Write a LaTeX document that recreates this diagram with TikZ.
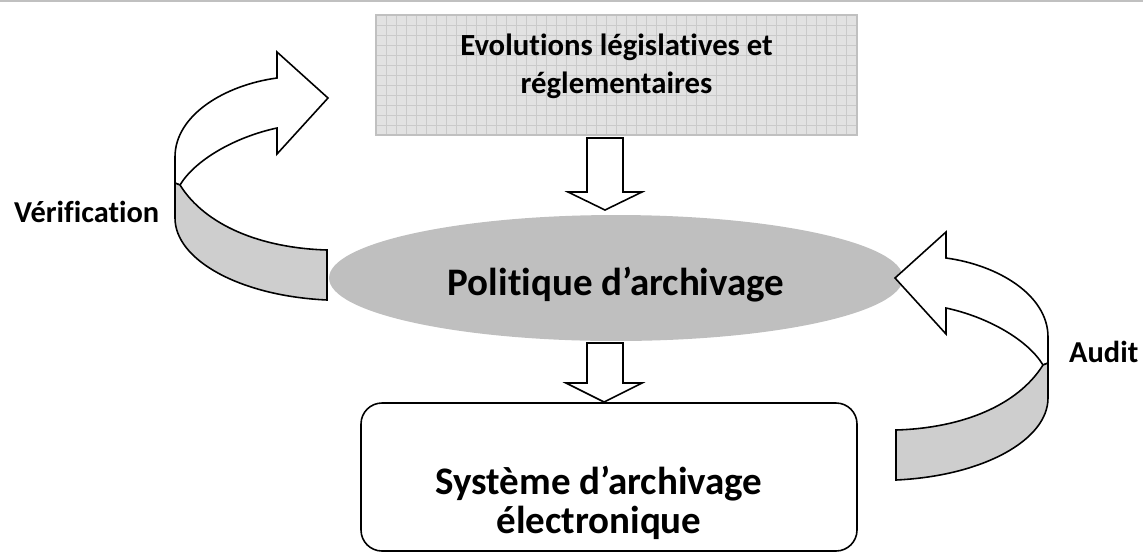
\documentclass[tikz,border=0pt]{standalone}
\usepackage{fontspec}
\setmainfont{Carlito}[Ligatures=NoCommon]
\usetikzlibrary{shapes.geometric}
\definecolor{rulegray}{RGB}{192,192,192}
\definecolor{ellgray}{RGB}{191,191,191}
\definecolor{bandgray}{RGB}{206,206,206}
\definecolor{boxfill}{RGB}{226,226,226}
\definecolor{gridgray}{RGB}{202,202,202}

% the bent ribbon arrow, drawn in pixel units
\newcommand{\turnarrow}{%
	\filldraw[outline, fill=white] (328,98) -- (277,52) -- (277,78)
		.. controls (225,85) and (175,115) .. (175,157) -- (175,183)
		-- (180,185) .. controls (195,160) and (235,137) .. (277,128)
		-- (277,154) -- cycle;
	\filldraw[outline, fill=bandgray] (180,185)
		.. controls (205,225) and (260,248) .. (327,250) -- (327,300)
		.. controls (240,296) and (175,260) .. (175,218) -- (175,183) -- cycle;
}

\begin{document}
\begin{tikzpicture}[x=0.02cm, y=-0.02cm,
	outline/.style={draw=black, line width=0.9pt, line join=miter},
	title style/.style={font=\fontsize{17.5}{21.6}\selectfont\bfseries, align=center},
	big style/.style={font=\fontsize{22.2}{22.2}\selectfont\bfseries, align=center},
	side style/.style={font=\fontsize{17.3}{18}\selectfont\bfseries, anchor=west}]
	\useasboundingbox (0,0) rectangle (1143,552);
	\draw[rulegray, line width=1.2pt] (0,1) -- (1143,1);
	% top box
	\fill[boxfill] (376,15) rectangle (857,135);
	\foreach \x in {386,396,...,856} \draw[gridgray, line width=0.5pt] (\x,15) -- (\x,135);
	\foreach \y in {25,35,...,134} \draw[gridgray, line width=0.5pt] (376,\y) -- (857,\y);
	\draw[rulegray, line width=1.2pt] (376,15) rectangle (857,135);
	\node[title style] (evol) at (616.5,66) {Evolutions législatives et\\réglementaires};
	% ellipse
	\node[ellipse, fill=ellgray, minimum width=11.48cm, minimum height=2.52cm, inner sep=0pt] (polit) at (616,278) {};
	\node[big style] (poltext) at (616,285) {Politique d’archivage};
	% bottom box
	\draw[outline, rounded corners=0.42cm] (361,403) rectangle (857,551);
	\node[big style] (sae) at (599,503) {Système d’archivage\\électronique};
	% down arrows
	\filldraw[outline, fill=white] (587,138) -- (623,138) -- (623,192) -- (642,192)
		-- (605,210) -- (568,192) -- (587,192) -- cycle;
	\filldraw[outline, fill=white] (587,343) -- (623,343) -- (623,383) -- (642,383)
		-- (604,402) -- (566,383) -- (587,383) -- cycle;
	% bent arrows
	\turnarrow
	\begin{scope}[shift={(1223,180)}, xscale=-1]
		\turnarrow
	\end{scope}
	\node[side style] (verif) at (8,212) {Vérification};
	\node[side style] (audit) at (1063,352) {Audit};
\end{tikzpicture}
\end{document}
